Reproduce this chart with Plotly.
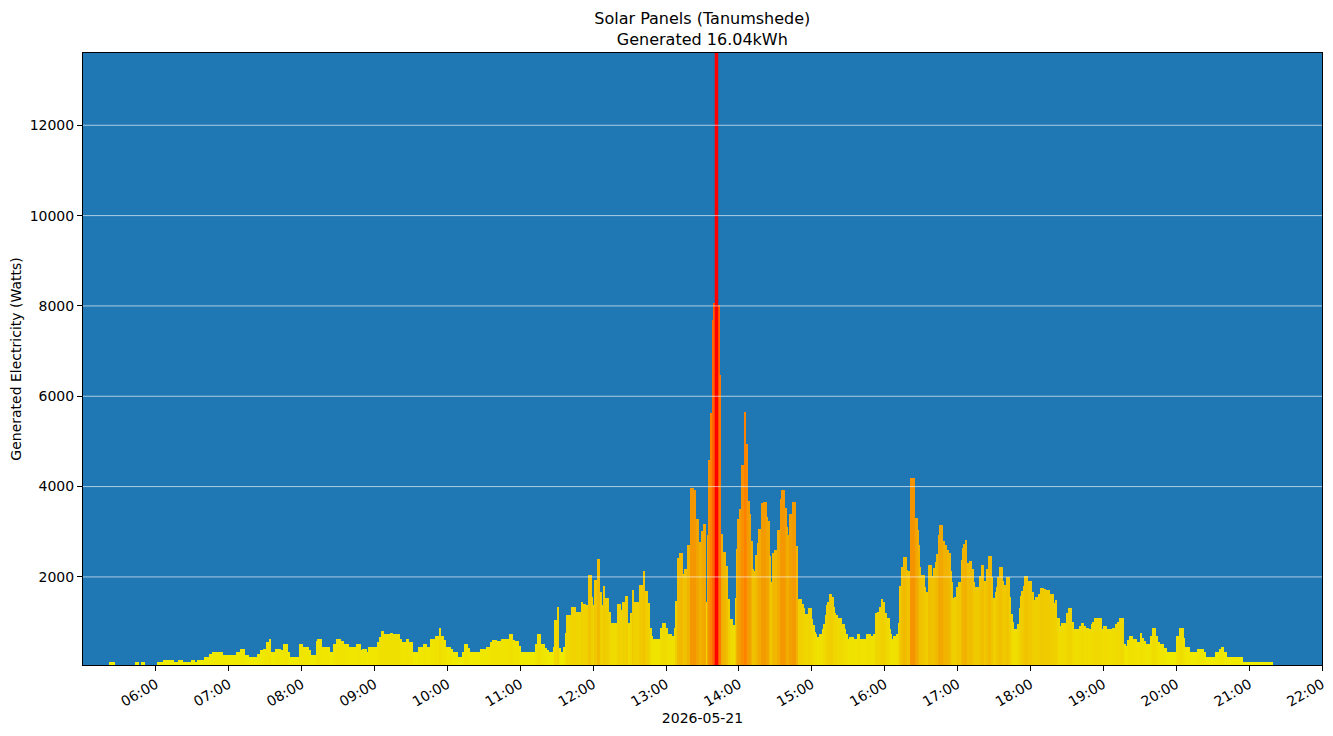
"""Solar panel generation for one day"""
import pandas as pd
import plotly.graph_objects as go

DAY = "2026-05-21"
SITE = "Tanumshede"
TOTAL_KWH = 16.04

# start of each reading step (HH:MM) and the power held until the next step (W)
step_times = [
    "05:21", "05:26", "05:43", "05:46", "05:48", "05:51", "06:01", "06:06", "06:15", "06:18",
    "06:22", "06:29", "06:32", "06:34", "06:40", "06:44", "06:46", "06:55", "07:06", "07:09",
    "07:13", "07:17", "07:23", "07:26", "07:28", "07:31", "07:33", "07:35", "07:38", "07:43",
    "07:45", "07:49", "07:50", "07:58", "08:01", "08:06", "08:08", "08:12", "08:13", "08:17",
    "08:23", "08:26", "08:28", "08:32", "08:35", "08:39", "08:45", "08:49", "08:50", "08:54",
    "08:55", "09:02", "09:04", "09:05", "09:08", "09:13", "09:15", "09:21", "09:22", "09:26",
    "09:28", "09:32", "09:36", "09:40", "09:43", "09:46", "09:50", "09:53", "09:55", "09:57",
    "09:59", "10:03", "10:04", "10:09", "10:12", "10:14", "10:17", "10:18", "10:27", "10:32",
    "10:35", "10:37", "10:41", "10:44", "10:51", "10:54", "10:56", "10:59", "11:00", "11:12",
    "11:14", "11:17", "11:20", "11:22", "11:23", "11:27", "11:28", "11:30", "11:32", "11:33",
    "11:35", "11:37", "11:38", "11:42", "11:46", "11:50", "11:52", "11:54", "11:56", "11:59",
    "12:00", "12:01", "12:03", "12:06", "12:07", "12:08", "12:10", "12:13", "12:15", "12:20",
    "12:23", "12:24", "12:26", "12:29", "12:31", "12:32", "12:34", "12:38", "12:41", "12:43",
    "12:45", "12:47", "12:48", "12:49", "12:55", "12:57", "13:00", "13:02", "13:05", "13:07",
    "13:08", "13:09", "13:11", "13:14", "13:15", "13:17", "13:20", "13:23", "13:25", "13:27",
    "13:29", "13:30", "13:33", "13:34", "13:35", "13:36", "13:38", "13:39", "13:40", "13:43",
    "13:44", "13:45", "13:47", "13:49", "13:51", "13:53", "13:55", "13:57", "13:58", "13:59",
    "14:00", "14:02", "14:04", "14:06", "14:07", "14:09", "14:10", "14:11", "14:12", "14:13",
    "14:15", "14:16", "14:18", "14:20", "14:23", "14:24", "14:25", "14:26", "14:27", "14:29",
    "14:31", "14:34", "14:35", "14:38", "14:39", "14:40", "14:41", "14:44", "14:47", "14:49",
    "14:52", "14:53", "14:54", "14:57", "15:00", "15:01", "15:02", "15:03", "15:04", "15:06",
    "15:08", "15:10", "15:11", "15:12", "15:13", "15:14", "15:17", "15:18", "15:19", "15:20",
    "15:21", "15:25", "15:27", "15:28", "15:30", "15:31", "15:35", "15:37", "15:40", "15:45",
    "15:49", "15:51", "15:52", "15:54", "15:56", "15:57", "15:59", "16:00", "16:02", "16:04",
    "16:05", "16:06", "16:07", "16:09", "16:11", "16:12", "16:13", "16:15", "16:18", "16:19",
    "16:21", "16:25", "16:27", "16:28", "16:29", "16:30", "16:33", "16:34", "16:36", "16:39",
    "16:40", "16:41", "16:43", "16:44", "16:45", "16:48", "16:49", "16:51", "16:53", "16:54",
    "16:55", "16:56", "16:57", "16:59", "17:00", "17:03", "17:04", "17:05", "17:06", "17:08",
    "17:09", "17:12", "17:13", "17:14", "17:18", "17:19", "17:22", "17:24", "17:25", "17:28",
    "17:29", "17:31", "17:32", "17:33", "17:34", "17:37", "17:38", "17:40", "17:43", "17:44",
    "17:45", "17:46", "17:49", "17:51", "17:52", "17:53", "17:54", "17:55", "17:58", "18:01",
    "18:03", "18:04", "18:07", "18:08", "18:11", "18:13", "18:16", "18:19", "18:20", "18:22",
    "18:24", "18:25", "18:30", "18:31", "18:34", "18:36", "18:40", "18:42", "18:44", "18:46",
    "18:48", "18:50", "18:51", "18:52", "18:59", "19:00", "19:03", "19:07", "19:10", "19:11",
    "19:13", "19:17", "19:18", "19:20", "19:21", "19:24", "19:28", "19:30", "19:32", "19:33",
    "19:35", "19:38", "19:40", "19:43", "19:45", "19:47", "19:50", "19:52", "20:00", "20:02",
    "20:06", "20:07", "20:11", "20:17", "20:23", "20:24", "20:32", "20:36", "20:37", "20:39",
    "20:42", "20:55",
]
end_time = "21:20"
watts = [
    110, 0, 110, 0, 110, 0, 120, 170, 120, 170,
    120, 170, 120, 170, 235, 300, 345, 280, 345, 410,
    280, 235, 300, 390, 410, 565, 630, 345, 410, 380,
    520, 345, 235, 520, 455, 390, 280, 590, 630, 455,
    345, 520, 630, 588, 520, 456, 520, 389, 411, 345,
    456, 566, 677, 810, 743, 765, 743, 632, 566, 632,
    566, 345, 456, 520, 456, 632, 700, 876, 700, 610,
    456, 411, 345, 235, 345, 520, 433, 345, 411, 456,
    566, 610, 590, 632, 743, 610, 588, 478, 345, 520,
    743, 520, 433, 389, 345, 456, 1052, 1340, 433, 345,
    456, 765, 1163, 1340, 1230, 1450, 1406, 1384, 2048, 1560,
    1384, 1937, 2400, 1672, 1384, 1804, 1539, 1230, 975, 1406,
    1274, 1450, 1583, 985, 1209, 1716, 1450, 1826, 2137, 1694,
    1428, 875, 700, 632, 875, 985, 875, 743, 700, 875,
    1472, 2424, 2535, 2070, 2181, 2712, 3973, 3929, 3287, 2778,
    3021, 3176, 1450, 2933, 4592, 5632, 7689, 8065, 8240, 8020,
    6472, 2955, 2557, 2247, 1517, 1074, 941, 1539, 2623, 3287,
    3508, 4481, 5653, 4946, 3685, 3398, 2800, 2181, 2137, 2491,
    2756, 3066, 3641, 3663, 3331, 3243, 2469, 1894, 2535, 2601,
    3043, 3729, 3929, 3531, 3110, 2933, 3398, 3663, 2690, 1517,
    1406, 1318, 1185, 1318, 1074, 941, 787, 743, 677, 743,
    853, 963, 1163, 1384, 1450, 1627, 1560, 1340, 1207, 1163,
    1097, 964, 853, 743, 632, 677, 632, 743, 632, 743,
    699, 743, 1207, 1229, 1340, 1516, 1450, 1207, 1097, 853,
    743, 632, 699, 743, 986, 1804, 2225, 2447, 2159, 2137,
    4194, 3308, 3043, 2712, 2225, 2048, 1782, 1671, 2270, 2026,
    2203, 2336, 2513, 2933, 3154, 2800, 2712, 2601, 2535, 2137,
    1893, 1538, 1560, 1782, 1893, 2380, 2646, 2734, 2822, 2313,
    2358, 2181, 1893, 1782, 2026, 2270, 1916, 2181, 2468, 1990,
    1538, 1671, 1782, 2004, 2225, 1916, 1827, 2004, 1560, 1185,
    1008, 853, 964, 1318, 1583, 1693, 1804, 2026, 1916, 1671,
    1493, 1560, 1627, 1760, 1738, 1716, 1627, 1428, 1493, 1097,
    920, 986, 1207, 1318, 1008, 853, 920, 986, 920, 876,
    853, 964, 1008, 1097, 853, 920, 853, 876, 964, 1008,
    1097, 523, 478, 610, 699, 632, 566, 765, 654, 588,
    523, 699, 876, 699, 566, 523, 433, 345, 699, 876,
    654, 456, 345, 411, 345, 235, 345, 411, 456, 345,
    235, 124,
]

hour_ticks = ["06:00", "07:00", "08:00", "09:00", "10:00", "11:00", "12:00", "13:00",
              "14:00", "15:00", "16:00", "17:00", "18:00", "19:00", "20:00", "21:00", "22:00"]
y_ticks = [2000, 4000, 6000, 8000, 10000, 12000]

starts = pd.to_datetime([f"{DAY} {t}" for t in step_times])
ends = pd.to_datetime([f"{DAY} {t}" for t in step_times[1:] + [end_time]])
widths_ms = (ends - starts).total_seconds() * 1000
mids = starts + (ends - starts) / 2
peak = mids[watts.index(max(watts))]

fig = go.Figure(go.Bar(
    x=mids,
    y=watts,
    width=widths_ms,
    marker=dict(
        color=watts,
        colorscale=[[0, "#f0f000"], [0.25, "#f0c400"], [0.45, "#f39a00"],
                    [0.7, "#ff8000"], [1, "#ff6000"]],
        cmin=0, cmax=max(watts),
        line=dict(width=0),
    ),
    showlegend=False,
))
fig.add_vline(x=peak, line_color="#ff0000", line_width=3.5, layer="above")
for tick in y_ticks:
    fig.add_hline(y=tick, line_color="rgba(255,255,255,0.8)", line_width=0.8, layer="above")

# the page body has an 8px margin, so the figure is 8px smaller than the window
fig.update_layout(
    width=1325, height=728,
    paper_bgcolor="white", plot_bgcolor="#1f77b4",
    font=dict(family="DejaVu Sans", size=14, color="black"),
    margin=dict(l=75, r=11, t=45, b=71, autoexpand=False),
    title=dict(text=f"Solar Panels ({SITE})<br>Generated {TOTAL_KWH}kWh",
               x=0.524, xanchor="center", y=0.978, yanchor="top",
               font=dict(size=16)),
    bargap=0,
)
fig.update_xaxes(
    type="date", range=[f"{DAY} 05:00", f"{DAY} 22:00"],
    tickvals=[f"{DAY} {t}" for t in hour_ticks], ticktext=hour_ticks, tickangle=-30,
    showgrid=False, ticks="outside", ticklen=5, tickcolor="black",
    showline=True, linecolor="black", linewidth=1, mirror=True, automargin=False,
    title=dict(text=DAY, standoff=4, font=dict(size=14)), zeroline=False,
)
fig.update_yaxes(
    range=[50, 13600], tickvals=y_ticks, tickformat="d", showgrid=False,
    ticks="outside", ticklen=5, tickcolor="black",
    showline=True, linecolor="black", linewidth=1, mirror=True, automargin=False,
    title=dict(text="Generated Electricity (Watts)", standoff=6, font=dict(size=14)),
    zeroline=False,
)
fig.write_html("out.html")
